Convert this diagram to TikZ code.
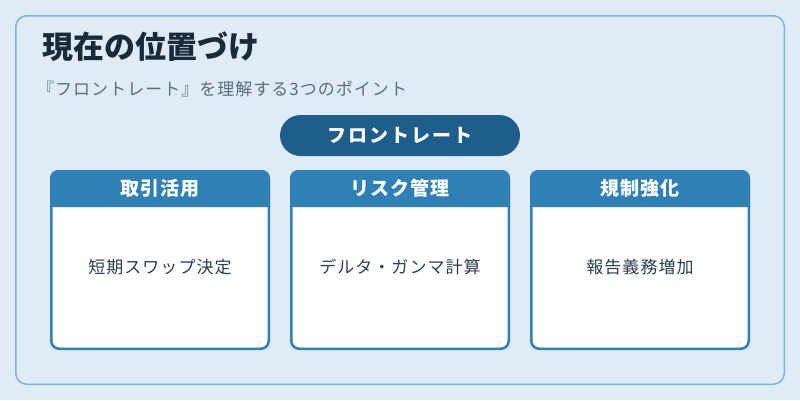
\documentclass[tikz,border=0pt]{standalone}
\usepackage{fontspec}
\setmainfont{Noto Sans CJK JP}
\usepackage{xcolor}
\usepackage{tikz}
\usetikzlibrary{positioning}
\usetikzlibrary{calc}
\definecolor{bgblue}{HTML}{DDECF7}
\definecolor{panelline}{HTML}{7FB3D5}
\definecolor{headblue}{HTML}{2E80B6}
\definecolor{pillblue}{HTML}{1F5E8A}
\definecolor{titledark}{HTML}{1B2A38}
\definecolor{subgray}{HTML}{5D6D7E}
\definecolor{textdark}{HTML}{2C3E50}

\begin{document}
\begin{tikzpicture}[
  x=1pt, y=-1pt,
  panel/.style={draw=panelline, line width=1.5pt, fill=bgblue, rounded corners=11pt},
  pill/.style={fill=pillblue, rounded corners=20.5pt, minimum width=240pt,
    minimum height=41pt, text=white,
    font=\bfseries\fontsize{19}{21}\selectfont\addfontfeature{LetterSpace=10}},
  card/.style={draw=headblue, line width=2.5pt, fill=white, rounded corners=8pt,
    minimum width=217.5pt, minimum height=177.5pt},
  headtxt/.style={text=white, inner sep=0pt,
    font=\bfseries\fontsize{19}{21}\selectfont\addfontfeature{LetterSpace=5}},
  bodytxt/.style={text=textdark, inner sep=0pt,
    font=\fontsize{17}{19}\selectfont\addfontfeature{LetterSpace=6}}]
	%% Frame
	\fill [bgblue] (0,0) rectangle (800,400);
	\useasboundingbox (0,0) rectangle (800,400);
	\path [panel] (15.75,15.75) rectangle (784.25,384.25);
	%% Titles
	\node [anchor=west, inner sep=0pt, text=titledark, font=\bfseries\fontsize{31}{34}\selectfont] at (42,47) (Title) {現在の位置づけ};
	\node [anchor=west, inner sep=0pt, text=subgray, font=\fontsize{17}{19}\selectfont\addfontfeature{LetterSpace=6}] at (37,89) (Sub) {『フロントレート』を理解する3つのポイント};
	%% Centre
	\node [pill] at (400,135.5) (FR) {フロントレート};
	%% Cards
	\node [card] at (160,260) (C1) {};
	\node [card] at (400,260) (C2) {};
	\node [card] at (640,260) (C3) {};
	\foreach \c in {C1,C2,C3} {
		\fill [headblue, rounded corners=8pt] (\c.west |- 0,207) -- (\c.north west) -- (\c.north east) [sharp corners] -- (\c.east |- 0,207) -- cycle;
	}
	\node [headtxt] at (160,188.5) (H1) {取引活用};
	\node [headtxt] at (400,188.5) (H2) {リスク管理};
	\node [headtxt] at (640,188.5) (H3) {規制強化};
	\node [bodytxt] at (160,267) (B1) {短期スワップ決定};
	\node [bodytxt] at (400,267) (B2) {デルタ・ガンマ計算};
	\node [bodytxt] at (640,267) (B3) {報告義務増加};
\end{tikzpicture}
\end{document}
